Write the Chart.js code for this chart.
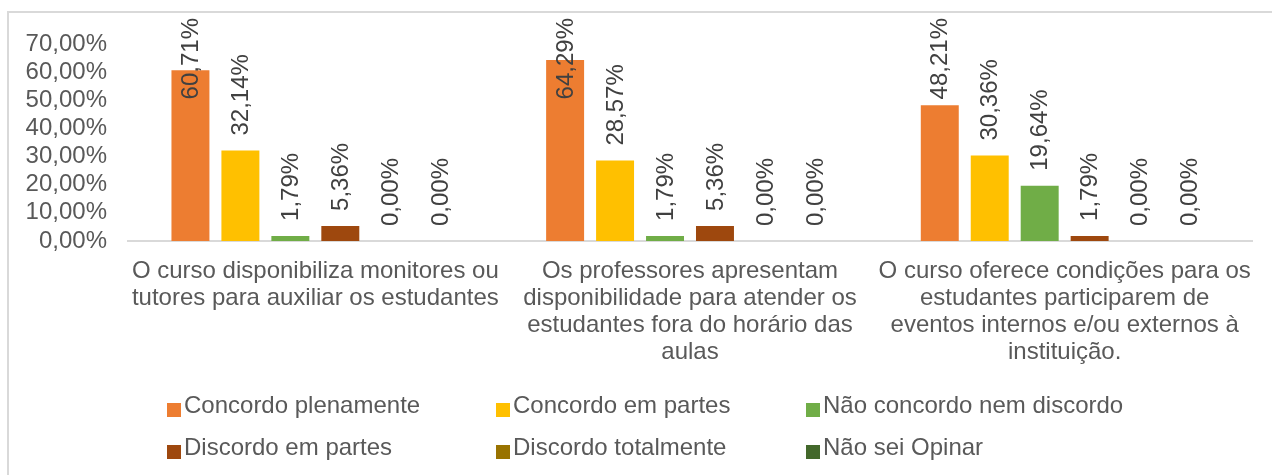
<!DOCTYPE html>
<html>
<head>
<meta charset="utf-8">
<script src="https://cdn.jsdelivr.net/npm/chart.js@4/dist/chart.umd.min.js"></script>
<style>
  html, body { margin: 0; padding: 0; background: #fff; }
  #wrap { width: 1272px; height: 475px; position: relative; }
</style>
</head>
<body>
<div id="wrap"><canvas id="c" width="1272" height="475"></canvas></div>
<script>
const categories = [
  ["O curso disponibiliza monitores ou", "tutores para auxiliar os estudantes"],
  ["Os professores apresentam", "disponibilidade para atender os", "estudantes fora do horário das", "aulas"],
  ["O curso oferece condições para os", "estudantes participarem de", "eventos internos e/ou externos à", "instituição."]
];
const seriesNames = ["Concordo plenamente", "Concordo em partes", "Não concordo nem discordo",
                     "Discordo em partes", "Discordo totalmente", "Não sei Opinar"];
const concordoPlenamente = [60.71, 64.29, 48.21];
const concordoEmPartes   = [32.14, 28.57, 30.36];
const naoConcordoNem     = [1.79, 1.79, 19.64];
const discordoEmPartes   = [5.36, 5.36, 1.79];
const discordoTotalmente = [0.00, 0.00, 0.00];
const naoSeiOpinar       = [0.00, 0.00, 0.00];
const yTicks = [0, 10, 20, 30, 40, 50, 60, 70];

const colors = ["#ED7D31", "#FFC000", "#70AD47", "#9E480E", "#997300", "#43682B"];
const allSeries = [concordoPlenamente, concordoEmPartes, naoConcordoNem, discordoEmPartes, discordoTotalmente, naoSeiOpinar];

const FONT = "'Liberation Sans', Arial, sans-serif";
const fmt = v => v.toFixed(2).replace('.', ',') + '%';

const frame = {
  id: 'frame',
  beforeDraw(chart) {
    const ctx = chart.ctx;
    ctx.save();
    ctx.fillStyle = '#fff';
    ctx.fillRect(0, 0, chart.width, chart.height);
    ctx.strokeStyle = '#d9d9d9';
    ctx.lineWidth = 2;
    ctx.beginPath();
    ctx.moveTo(8, chart.height);
    ctx.lineTo(8, 12);
    ctx.lineTo(chart.width, 12);
    ctx.stroke();
    ctx.restore();
  }
};

const dataLabels = {
  id: 'dataLabels',
  afterDatasetsDraw(chart) {
    const ctx = chart.ctx;
    ctx.save();
    ctx.font = '24px ' + FONT;
    ctx.fillStyle = '#404040';
    ctx.textAlign = 'left';
    ctx.textBaseline = 'middle';
    chart.data.datasets.forEach((ds, di) => {
      const meta = chart.getDatasetMeta(di);
      meta.data.forEach((el, i) => {
        const txt = fmt(ds.data[i]);
        const len = ctx.measureText(txt).width;
        let start = el.y - 15;
        if (start - len < 18) start = 18 + len;
        ctx.save();
        ctx.translate(el.x, start);
        ctx.rotate(-Math.PI / 2);
        ctx.fillText(txt, 0, 1);
        ctx.restore();
      });
    });
    ctx.restore();
  }
};

const legendCols = [167, 496, 806];
const legendRows = [406, 448];
const customLegend = {
  id: 'customLegend',
  afterDraw(chart) {
    const ctx = chart.ctx;
    ctx.save();
    ctx.font = '24px ' + FONT;
    ctx.textAlign = 'left';
    ctx.textBaseline = 'middle';
    chart.data.datasets.forEach((ds, i) => {
      const x = legendCols[i % 3];
      const y = legendRows[Math.floor(i / 3)];
      ctx.fillStyle = ds.backgroundColor;
      ctx.fillRect(x, y - 3, 14, 14);
      ctx.fillStyle = '#595959';
      ctx.fillText(ds.label, x + 17, y);
    });
    ctx.restore();
  }
};

new Chart(document.getElementById('c'), {
  type: 'bar',
  data: {
    labels: categories,
    datasets: allSeries.map((d, i) => ({
      label: seriesNames[i],
      data: d,
      backgroundColor: colors[i],
      borderWidth: 0,
      categoryPercentage: 0.8,
      barPercentage: 0.76
    }))
  },
  options: {
    responsive: false,
    animation: false,
    layout: { padding: { top: 44, right: 20, left: 0, bottom: 0 } },
    plugins: {
      legend: { display: false },
      tooltip: { enabled: false }
    },
    scales: {
      x: {
        grid: { display: false, drawTicks: false },
        border: { display: true, color: '#d9d9d9', width: 2 },
        ticks: {
          color: '#595959',
          font: { family: FONT, size: 24, lineHeight: 1.125 },
          padding: 17,
          maxRotation: 0,
          autoSkip: false
        },
        afterFit(s) { s.height = 234; }
      },
      y: {
        min: 0, max: 70,
        afterBuildTicks(s) { s.ticks = yTicks.map(v => ({ value: v })); },
        grid: { display: false, drawTicks: false },
        border: { display: false },
        ticks: {
          color: '#595959',
          font: { family: FONT, size: 24 },
          padding: 21,
          autoSkip: false,
          callback: v => fmt(v)
        },
        afterFit(s) { s.width = 128; }
      }
    }
  },
  plugins: [frame, dataLabels, customLegend]
});
</script>
</body>
</html>
